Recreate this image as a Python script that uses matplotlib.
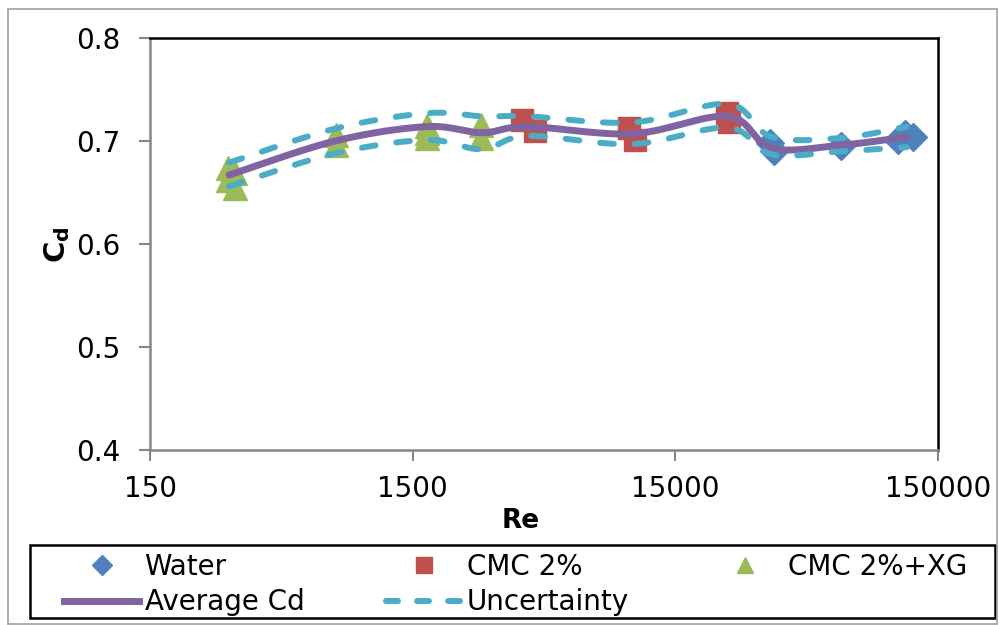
import numpy as np
import matplotlib
matplotlib.use("Agg")
import matplotlib.pyplot as plt
from matplotlib.lines import Line2D
from matplotlib.patches import Rectangle

# ---- data ----
water_re = [34500, 35500, 64000, 106000, 112000, 120000]
water_cd = [0.698, 0.690, 0.695, 0.701, 0.707, 0.704]

cmc_re = [3900, 4370, 10030, 10500, 23500, 24100]
cmc_cd = [0.720, 0.710, 0.713, 0.701, 0.727, 0.718]

xg_re = [297, 316, 297, 316, 766, 766, 1700, 1700, 1700, 2740, 2740]
xg_cd = [0.674, 0.669, 0.662, 0.654, 0.706, 0.696, 0.715, 0.708, 0.703, 0.716, 0.703]

avg_re = [300, 760, 1700, 2750, 4100, 10300, 23800, 34900, 64400, 114000]
avg_cd = [0.667, 0.700, 0.714, 0.708, 0.714, 0.707, 0.724, 0.693, 0.696, 0.704]
unc_up = [0.679, 0.712, 0.727, 0.724, 0.724, 0.718, 0.736, 0.704, 0.703, 0.714]
unc_lo = [0.656, 0.688, 0.701, 0.692, 0.705, 0.697, 0.713, 0.687, 0.690, 0.694]

x_ticks = [150, 1500, 15000, 150000]
y_ticks = [0.4, 0.5, 0.6, 0.7, 0.8]

C_BLUE = "#4F81BD"
C_RED = "#C0504D"
C_GREEN = "#9BBB59"
C_PURPLE = "#8064A2"
C_CYAN = "#4BACC6"

UNC_DASH = (2.3, 3.5)


def smooth(xs, ys, n=30):
    """Excel-like smoothed line (Catmull-Rom) in log-x space."""
    lx = np.log10(np.asarray(xs, float))
    y = np.asarray(ys, float)
    P = np.column_stack([lx, y])
    P = np.vstack([P[0], P, P[-1]])
    out = []
    t = np.linspace(0, 1, n)
    for i in range(1, len(P) - 2):
        p0, p1, p2, p3 = P[i - 1], P[i], P[i + 1], P[i + 2]
        tt = t[:, None]
        seg = 0.5 * ((2 * p1) + (-p0 + p2) * tt + (2 * p0 - 5 * p1 + 4 * p2 - p3) * tt ** 2
                     + (-p0 + 3 * p1 - 3 * p2 + p3) * tt ** 3)
        out.append(seg if i == 1 else seg[1:])
    S = np.vstack(out)
    return 10 ** S[:, 0], S[:, 1]


fig = plt.figure(figsize=(9.99, 6.25), dpi=100)
ax = fig.add_axes([150 / 999, 1 - 450 / 625, (938 - 150) / 999, (450 - 38) / 625])

ax.plot(water_re, water_cd, linestyle="none", marker="D", markersize=14, color=C_BLUE,
        markeredgecolor=C_BLUE, zorder=2)
ax.plot(cmc_re, cmc_cd, linestyle="none", marker="s", markersize=16, color=C_RED,
        markeredgecolor=C_RED, zorder=2)
ax.plot(xg_re, xg_cd, linestyle="none", marker="^", markersize=17, color=C_GREEN,
        markeredgecolor=C_GREEN, zorder=2)

sx, sy = smooth(avg_re, avg_cd)
ax.plot(sx, sy, color=C_PURPLE, lw=5, solid_capstyle="round", zorder=3)
ux, uy = smooth(avg_re, unc_up)
lx, ly = smooth(avg_re, unc_lo)
for xx, yy in ((ux, uy), (lx, ly)):
    ax.plot(xx, yy, color=C_CYAN, lw=4.3, dashes=UNC_DASH, dash_capstyle="round", zorder=4)

ax.set_xscale("log")
ax.set_xlim(150, 150000)
ax.set_ylim(0.4, 0.8)
ax.set_xticks(x_ticks)
ax.set_xticklabels([str(v) for v in x_ticks])
ax.xaxis.set_minor_locator(matplotlib.ticker.NullLocator())
ax.set_yticks(y_ticks)
ax.set_yticklabels([f"{v:.1f}" for v in y_ticks])

for s in ("left", "bottom"):
    ax.spines[s].set_color("#868686")
    ax.spines[s].set_linewidth(1.8)
for s in ("top", "right"):
    ax.spines[s].set_color("black")
    ax.spines[s].set_linewidth(1.8)

ax.tick_params(axis="both", direction="out", length=8, width=1.5, color="#868686",
               labelsize=20, labelcolor="#000000")
ax.tick_params(axis="x", pad=10)
ax.tick_params(axis="y", pad=13)

ax.set_xlabel("Re", fontsize=19, fontweight="bold")
ax.xaxis.set_label_coords((521 - 150) / 788, (450 - 508) / 412)
ax.set_ylabel(r"$\mathbf{C_d}$", fontsize=21)
ax.yaxis.set_label_coords((72 - 150) / 788, (450 - 245) / 412)

# legend: frame drawn separately, three columns placed individually
h_water = Line2D([], [], linestyle="none", marker="D", markersize=10, color=C_BLUE)
h_cmc = Line2D([], [], linestyle="none", marker="s", markersize=11, color=C_RED)
h_xg = Line2D([], [], linestyle="none", marker="^", markersize=12, color=C_GREEN)
h_avg = Line2D([], [], color=C_PURPLE, lw=5)
h_unc = Line2D([], [], color=C_CYAN, lw=4.3, dashes=(2.0, 3.2), dash_capstyle="round")

columns = [([h_water, h_avg], ["Water", "Average Cd"], 64),
           ([h_cmc, h_unc], ["CMC 2%", "Uncertainty"], 386),
           ([h_xg], ["CMC 2%+XG"], 707)]
for handles, labels, xpix in columns:
    lg = fig.legend(handles, labels, loc="upper left",
                    bbox_to_anchor=(xpix / 999, 1 - 553 / 625),
                    fontsize=20, frameon=False, handlelength=2.7,
                    handletextpad=0.2, borderaxespad=0.0, borderpad=0.0,
                    labelspacing=0.26)

fig.patches.append(Rectangle((30 / 999, 1 - 618 / 625), 965 / 999, 73 / 625,
                             transform=fig.transFigure, fill=False,
                             edgecolor="black", linewidth=1.8))
fig.patches.append(Rectangle((8 / 999, 0.002), 1 - 8 / 999 - 0.002, 1 - 9 / 625 - 0.002,
                             transform=fig.transFigure, fill=False,
                             edgecolor="#A0A0A0", linewidth=1.2))

fig.savefig("out.png", dpi=100)
